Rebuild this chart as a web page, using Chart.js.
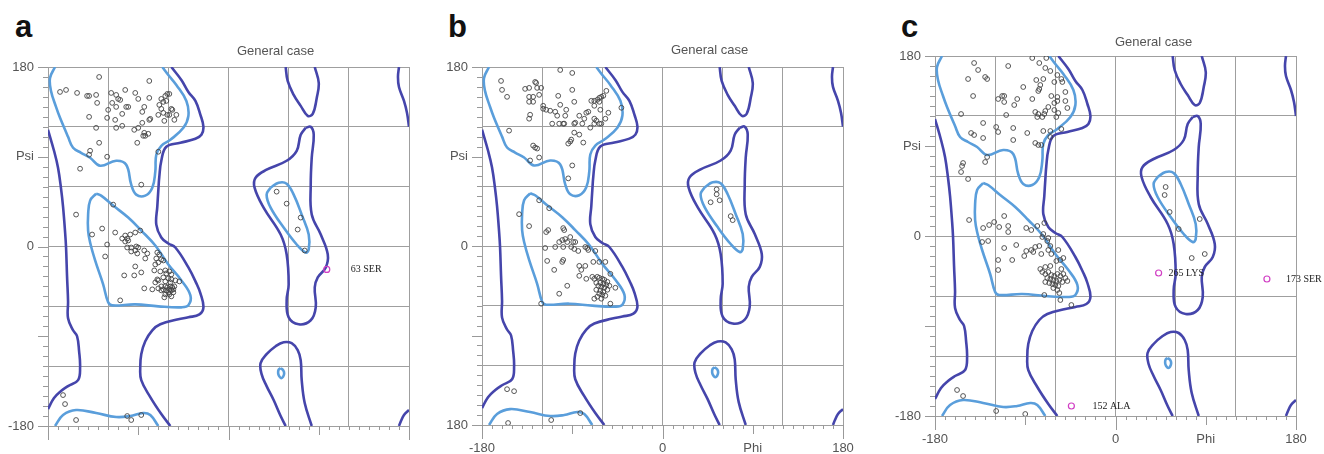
<!DOCTYPE html>
<html>
<head>
<meta charset="utf-8">
<script src="https://cdn.jsdelivr.net/npm/chart.js@4.4.0/dist/chart.umd.min.js"></script>
<style>
  html, body { margin: 0; padding: 0; background: #fff; width: 1324px; height: 454px; overflow: hidden; }
  canvas { position: absolute; }
  .letter { position: absolute; font: bold 31px "Liberation Sans", Arial, sans-serif; line-height: 31px; color: #111; }
</style>
</head>
<body>
<div class="letter" style="left:15px;top:11px">a</div>
<div class="letter" style="left:448px;top:11px">b</div>
<div class="letter" style="left:901px;top:11px">c</div>
<canvas id="chartA" width="440" height="480" style="left:0;top:0"></canvas>
<canvas id="chartB" width="433" height="480" style="left:447px;top:0"></canvas>
<canvas id="chartC" width="444" height="480" style="left:880px;top:0"></canvas>
<script>
// ---------- data: [phi, psi] in degrees ----------
const yTickLabels = { 180: "180", 90: "Psi", 0: "0", "-180": "-180" };
const xTickLabels = { "-180": "-180", 0: "0", 90: "Phi", 180: "180" };

// residues, panel a
const residuesA = [
  [-129,170],[-168,155],[-162,157],[-151,154],[-141,151],[-139,151],[-132,152],[-131,144],[-139,130],[-132,119],
  [-129,104],[-138,96],[-139,92],[-121,90],[-148,78],[-117,154],[-112,152],[-110,148],[-108,147],[-103,157],
  [-116,144],[-112,140],[-100,140],[-102,140],[-120,137],[-121,129],[-113,127],[-106,133],[-112,119],[-106,121],
  [-93,154],[-90,148],[-79,149],[-79,166],[-84,140],[-86,135],[-86,124],[-79,127],[-78,128],[-90,119],
  [-94,117],[-84,114],[-85,111],[-83,111],[-80,113],[-91,104],[-70,95],[-87,62],[-67,148],[-63,151],
  [-61,153],[-59,153],[-65,145],[-62,146],[-69,142],[-67,138],[-70,132],[-65,134],[-57,138],[-56,137],
  [-61,132],[-59,132],[-52,132],[-54,127],[-64,126],
  [-115,42],[-152,32],[-136,12],[-126,18],[-113,14],[-106,8],[-103,11],[-101,8],[-98,12],[-100,6],
  [-103,5],[-93,14],[-88,16],[-121,2],[-123,-10],[-101,-1],[-97,-1],[-92,0],[-90,-1],[-93,-4],
  [-97,-5],[-84,-4],[-81,-7],[-83,-12],[-91,-7],[-71,-6],[-69,-8],[-72,-12],[-67,-13],[-65,-14],
  [-73,-18],[-70,-16],[-93,-20],[-87,-26],[-104,-29],[-94,-29],[-74,-24],[-68,-25],[-63,-24],[-62,-27],
  [-59,-25],[-57,-28],[-71,-33],[-73,-36],[-70,-34],[-84,-42],[-76,-43],[-65,-31],[-60,-32],[-57,-33],
  [-63,-35],[-58,-36],[-53,-34],[-49,-35],[-67,-40],[-63,-40],[-61,-41],[-58,-40],[-56,-41],[-54,-40],
  [-65,-43],[-62,-44],[-59,-43],[-57,-44],[-55,-43],[-63,-48],[-59,-48],[-57,-50],[-67,-44],[-70,-42],
  [-60,-46],[-55,-46],[-64,-51],[-108,-54],
  [48,55],[58,43],[72,29],[69,17],[76,-4],
  [-165,-149],[-163,-158],[-152,-174],[-101,-170],[-97,-174],[-87,-169]
];
const outliersA = [[98,-23]];
const outlierNamesA = ["63 SER"];

// residues, panel b
const residuesB = [
  [-102,177],[-90,174],[-161,166],[-160,157],[-155,150],[-127,165],[-126,164],[-137,158],[-133,159],[-125,159],
  [-121,159],[-123,152],[-133,150],[-129,150],[-133,145],[-129,145],[-104,151],[-90,157],[-88,145],[-102,142],
  [-119,141],[-119,138],[-116,137],[-112,136],[-107,135],[-96,137],[-132,132],[-133,128],[-97,131],[-105,131],
  [-153,116],[-110,123],[-103,123],[-99,123],[-98,123],[-88,123],[-87,124],[-83,131],[-80,123],[-76,134],
  [-74,135],[-78,128],[-68,128],[-72,119],[-88,114],[-83,112],[-91,107],[-92,105],[-94,103],[-79,104],
  [-129,101],[-127,99],[-125,98],[-123,89],[-132,86],[-90,81],[-94,68],[-71,146],[-68,146],[-65,147],
  [-63,149],[-61,150],[-59,151],[-68,141],[-63,145],[-56,156],[-62,137],[-54,134],[-68,123],[-66,126],
  [-63,123],[-61,123],[-57,128],[-41,139],
  [-123,46],[-113,38],[-143,32],[-133,20],[-116,14],[-114,16],[-99,18],[-98,16],[-92,9],[-97,7],
  [-100,6],[-103,4],[-95,4],[-89,4],[-87,4],[-107,-1],[-99,-1],[-91,-1],[-88,-3],[-84,-5],
  [-117,-2],[-77,-1],[-75,-2],[-74,-4],[-67,-5],[-115,-15],[-99,-14],[-100,-16],[-108,-24],[-83,-20],
  [-81,-24],[-77,-20],[-69,-16],[-63,-16],[-57,-16],[-83,-30],[-76,-33],[-70,-31],[-52,-28],[-95,-40],
  [-103,-48],[-68,-33],[-65,-31],[-63,-32],[-60,-33],[-58,-34],[-55,-36],[-66,-37],[-62,-37],[-59,-38],
  [-56,-39],[-64,-40],[-61,-41],[-58,-42],[-66,-44],[-62,-45],[-59,-46],[-63,-48],[-60,-49],[-57,-50],
  [-55,-44],[-53,-40],[-65,-51],[-61,-53],[-47,-42],[-68,-53],[-121,-58],[-52,-58],
  [54,57],[54,52],[48,44],[57,46],[68,30],[70,26],
  [-155,-144],[-148,-146],[-154,-178],[-111,-175],[-82,-168]
];
const outliersB = [];
const outlierNamesB = [];

// residues, panel c
const residuesC = [
  [-141,173],[-137,166],[-147,157],[-130,159],[-128,157],[-142,140],[-107,170],[-83,178],[-69,178],[-76,173],
  [-70,168],[-65,165],[-58,161],[-54,157],[-79,156],[-72,157],[-61,154],[-53,154],[-75,151],[-76,147],
  [-77,145],[-92,149],[-50,144],[-64,140],[-58,139],[-83,137],[-98,137],[-117,137],[-113,140],[-111,140],
  [-111,134],[-101,131],[-58,135],[-61,133],[-50,135],[-67,129],[-48,128],[-80,124],[-77,122],[-71,122],
  [-70,125],[-73,119],[-78,119],[-61,126],[-57,123],[-59,119],[-109,121],[-154,122],[-132,113],[-119,109],
  [-117,104],[-102,108],[-88,103],[-72,105],[-65,105],[-65,99],[-54,107],[-144,103],[-141,101],[-132,98],
  [-102,96],[-80,93],[-77,91],[-74,91],[-128,79],[-130,74],[-152,73],[-153,70],[-154,64],[-147,57],
  [-146,16],[-132,8],[-126,11],[-121,14],[-111,20],[-116,9],[-107,10],[-107,4],[-89,8],[-84,6],
  [-78,10],[-71,13],[-72,2],[-73,-1],[-133,-6],[-127,-5],[-111,-12],[-99,-9],[-89,-15],[-91,-20],
  [-84,-14],[-82,-16],[-80,-11],[-76,-10],[-74,-18],[-67,-14],[-65,-10],[-64,-18],[-68,-5],[-67,-2],
  [-117,-24],[-103,-24],[-117,-34],[-57,-14],[-55,-24],[-52,-22],[-59,-25],[-75,-33],[-70,-31],[-65,-30],
  [-54,-33],[-52,-38],[-73,-36],[-70,-38],[-67,-36],[-64,-39],[-61,-40],[-58,-38],[-55,-40],[-50,-42],
  [-68,-42],[-65,-43],[-62,-44],[-59,-45],[-56,-44],[-53,-46],[-66,-47],[-63,-48],[-60,-49],[-57,-50],
  [-62,-52],[-58,-54],[-70,-46],[-48,-45],[-71,-59],[-56,-57],[-55,-64],[-44,-69],
  [50,49],[49,41],[54,24],[63,7],[84,17],[76,-22],[89,-18],
  [-158,-154],[-152,-160],[-119,-175],[-90,-178]
];
const outliersC = [[43,-37],[151,-43],[-44,-170]];
const outlierNamesC = ["265 LYS", "173 SER", "152 ALA"];

// contours, same in every panel
const favouredBeta = [
  [-173,180],[-178,169],[-177,156],[-172,140],[-168,129],[-160,110],[-155,99],[-147,94],[-138,89],[-128,81],
  [-112,86],[-102,82],[-97,62],[-92,52],[-83,51],[-76,59],[-73,75],[-72,92],[-67,101],[-58,107],
  [-45,119],[-40,131],[-42,146],[-52,162],[-60,172],[-66,180]
];
const favouredBetaWrap = [
  [-173,-180],[-165,-169],[-152,-164],[-132,-167],[-112,-171],[-98,-170],[-85,-167],[-78,-169],[-70,-180]
];
const favouredAlpha = [
  [-132,53],[-138,46],[-140,32],[-140,16],[-138,4],[-133,-14],[-125,-38],[-120,-56],[-116,-59],[-93,-58],
  [-70,-60],[-47,-61],[-40,-59],[-38,-49],[-47,-34],[-60,-18],[-73,1],[-87,16],[-100,29],[-115,41],
  [-127,51],[-132,53]
];
const favouredAlphaL = [
  [42,59],[38,52],[42,39],[55,19],[68,2],[77,-6],[80,-3],[80,12],[73,32],[65,52],[58,63],[50,64],[42,59]
];
const favouredGamma = [
  [52,-122],[54.5,-124],[55.5,-127],[54.5,-130.5],[52.5,-132],[50.5,-130],[49.5,-127],[50,-123.5],[52,-122]
];
const allowedLeft = [
  [-180,117],[-174,96],[-170,79],[-167,58],[-165,40],[-163,15],[-162,-1],[-161,-30],[-160,-55],[-160,-72],
  [-155,-84],[-151,-90],[-149,-105],[-148,-121],[-150,-134],[-160,-140],[-167,-145],[-174,-152],[-180,-163]
];
const allowedRight = [
  [-57,180],[-47,167],[-40,155],[-33,146],[-28,132],[-25,120],[-27,112],[-33,108],[-48,104],[-62,100],
  [-67,86],[-69,70],[-70,56],[-71,40],[-72,22],[-67,9],[-60,3],[-53,-1],[-40,-21],[-32,-37],
  [-28,-47],[-25,-61],[-29,-68],[-40,-71],[-50,-73],[-68,-78],[-76,-84],[-83,-95],[-87,-108],[-88,-121],
  [-87,-134],[-78,-151],[-67,-168],[-58,-180]
];
const allowedTopMid = [
  [57,180],[59,166],[65,152],[72,141],[79,131],[84,133],[88,149],[90,164],[86,180]
];
const allowedBottomMid = [
  [57,-180],[52,-170],[45,-154],[38,-140],[33,-128],[32,-117],[38,-108],[47,-100],[55,-96],[63,-97],
  [69,-104],[72,-114],[73,-134],[76,-157],[83,-180]
];
const allowedAlphaL = [
  [77,119],[72,112],[68,96],[58,86],[38,77],[27,69],[26,59],[35,39],[52,12],[58,-8],
  [60,-38],[58,-54],[60,-71],[70,-78],[82,-74],[87,-61],[86,-41],[89,-31],[97,-21],[99,-8],
  [92,12],[83,32],[82,62],[83,89],[85,112],[82,120],[77,119]
];
const allowedEdgeTop = [[170,180],[169,170],[170,160],[175,146],[178,134],[180,120]];
const allowedEdgeBottom = [[180,-164],[175,-169],[172,-175],[170,-180]];

// ---------- helpers ----------
const toXY = (arr) => arr.map(([x, y]) => ({ x, y }));
const DARK = "#4545ab";
const LIGHT = "#5a9edb";
const GRID = "#9f9f9f";
const FONT = '"Liberation Sans", Arial, sans-serif';

const contour = (arr, color) => ({
  data: toXY(arr),
  showLine: true,
  borderColor: color,
  borderWidth: 2.6,
  pointRadius: 0,
  tension: 0.4,
  fill: false,
});

// ticks, title and residue names
const decor = {
  id: "decor",
  afterDraw(chart, args, opts) {
    const { ctx, chartArea } = chart;
    const xs = chart.scales.x, ys = chart.scales.y;
    ctx.save();
    ctx.strokeStyle = "#999";
    ctx.lineWidth = 1;
    ctx.beginPath();
    for (let v = -180; v <= 180; v += 10) {
      const px = Math.round(xs.getPixelForValue(v)) + 0.5;
      const lx = v % 180 === 0 ? 14 : v % 90 === 0 ? 9 : 4;
      ctx.moveTo(px, chartArea.bottom);
      ctx.lineTo(px, chartArea.bottom + lx);
      const py = Math.round(ys.getPixelForValue(v)) + 0.5;
      const ly = v % 90 === 0 ? 10 : 5;
      ctx.moveTo(chartArea.left - ly, py);
      ctx.lineTo(chartArea.left, py);
    }
    ctx.stroke();

    ctx.fillStyle = "#555";
    ctx.font = "13px " + FONT;
    ctx.textAlign = "center";
    ctx.textBaseline = "middle";
    ctx.fillText("General case", xs.getPixelForValue(opts.titlePhi), chartArea.top - opts.titleGap);

    ctx.font = '10px "Liberation Serif", "Times New Roman", serif';
    ctx.fillStyle = "#222";
    ctx.textAlign = "left";
    opts.outliers.forEach(([phi, psi], i) => {
      ctx.fillText(opts.names[i], xs.getPixelForValue(phi) + opts.nameGap[i], ys.getPixelForValue(psi));
    });
    ctx.restore();
  },
};

function makePanel(id, g, residues, outliers, names) {
  new Chart(document.getElementById(id), {
    type: "scatter",
    data: {
      datasets: [
        {
          data: toXY(outliers),
          pointRadius: 3,
          borderWidth: 1.2,
          borderColor: "#d13fc4",
          backgroundColor: "rgba(0,0,0,0)",
        },
        {
          data: toXY(residues),
          pointRadius: 2.4,
          borderWidth: 0.9,
          borderColor: "#444",
          backgroundColor: "rgba(0,0,0,0)",
        },
        contour(favouredBeta, LIGHT),
        contour(favouredBetaWrap, LIGHT),
        contour(favouredAlpha, LIGHT),
        contour(favouredAlphaL, LIGHT),
        contour(favouredGamma, LIGHT),
        contour(allowedLeft, DARK),
        contour(allowedRight, DARK),
        contour(allowedTopMid, DARK),
        contour(allowedBottomMid, DARK),
        contour(allowedAlphaL, DARK),
        contour(allowedEdgeTop, DARK),
        contour(allowedEdgeBottom, DARK),
      ],
    },
    options: {
      responsive: false,
      animation: false,
      events: [],
      layout: { padding: { left: 0, top: g.top, right: g.right, bottom: 0 } },
      plugins: {
        legend: { display: false },
        tooltip: { enabled: false },
        decor: {
          titlePhi: g.titlePhi,
          titleGap: g.titleGap,
          outliers,
          names,
          nameGap: g.nameGap,
        },
      },
      scales: {
        x: {
          type: "linear",
          min: -180,
          max: 180,
          afterFit: (s) => { s.height = g.xh; },
          border: { display: false },
          grid: {
            drawTicks: false,
            lineWidth: 1,
            color: (c) => (c.tick && c.tick.value % 60 === 0 ? GRID : "rgba(0,0,0,0)"),
          },
          ticks: {
            stepSize: 10,
            autoSkip: false,
            maxRotation: 0,
            padding: 16,
            color: "#555",
            font: { family: FONT, size: 13 },
            callback: (v) => (g.xLabels ? xTickLabels[v] || "" : ""),
          },
        },
        y: {
          type: "linear",
          min: -180,
          max: 180,
          afterFit: (s) => { s.width = g.yw; },
          border: { display: false },
          grid: {
            drawTicks: false,
            lineWidth: 1,
            color: (c) => (c.tick && c.tick.value % 60 === 0 ? GRID : "rgba(0,0,0,0)"),
          },
          ticks: {
            stepSize: 10,
            autoSkip: false,
            padding: 14,
            color: "#555",
            font: { family: FONT, size: 13 },
            callback: (v) => yTickLabels[v] || "",
          },
        },
      },
    },
    plugins: [decor],
  });
}

makePanel("chartA", { top: 67, right: 31, yw: 48, xh: 54, xLabels: false, titlePhi: 47, titleGap: 16, nameGap: [24] },
  residuesA, outliersA, outlierNamesA);
makePanel("chartB", { top: 67, right: 37, yw: 35, xh: 55, xLabels: true, titlePhi: 47, titleGap: 17, nameGap: [] },
  residuesB, outliersB, outlierNamesB);
makePanel("chartC", { top: 56, right: 28, yw: 55, xh: 64, xLabels: true, titlePhi: 38, titleGap: 14, nameGap: [10, 19, 21] },
  residuesC, outliersC, outlierNamesC);
</script>
</body>
</html>
